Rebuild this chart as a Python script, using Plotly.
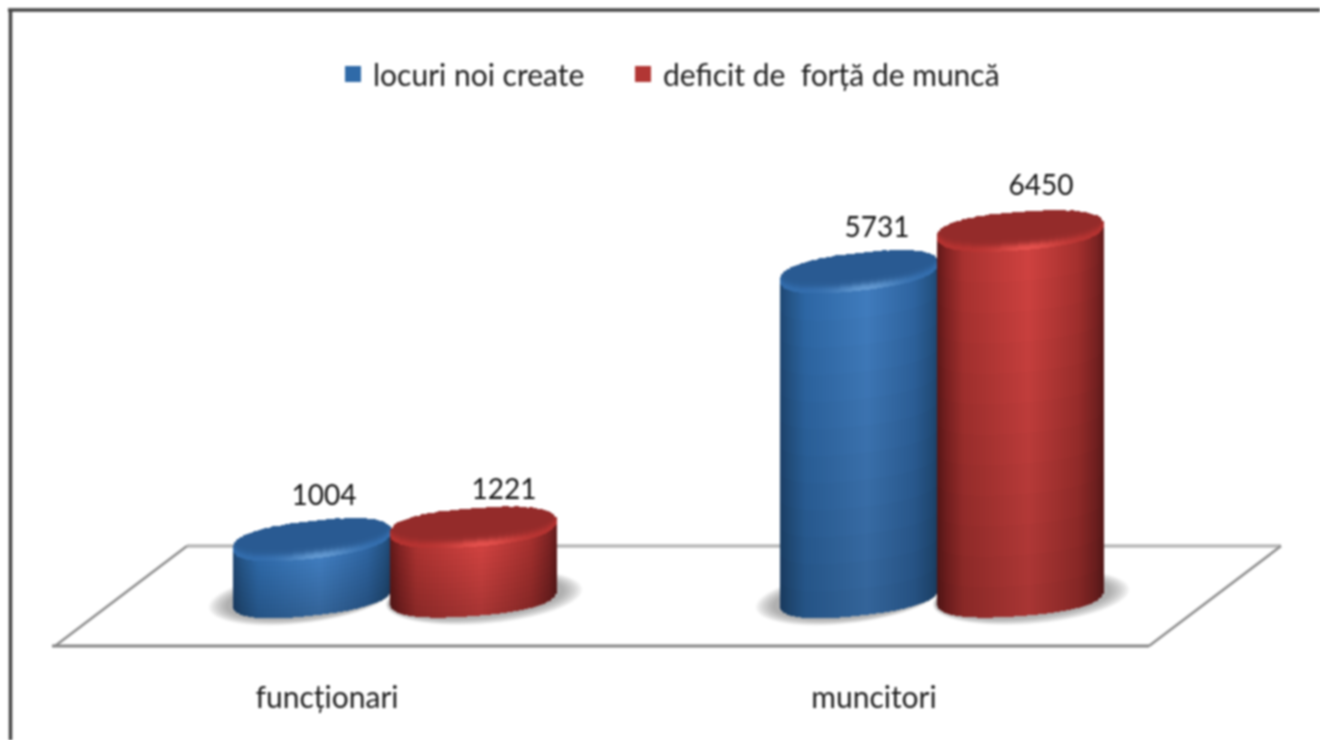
import numpy as np
import plotly.graph_objects as go

categories = ["funcționari", "muncitori"]
series_names = ["locuri noi create", "deficit de  forță de muncă"]
locuri_noi = [1004, 5731]
deficit = [1221, 6450]

W, H = 1320, 740
MB = 66
PX_X0, PX_PER_CAT = 395.0, 547.0      # px of category 0, px per category
PX_Y0, PX_PER_VAL = 597.0, 0.0567     # px of value 0, px per unit
UX = 1 / PX_PER_CAT
UV = 1 / PX_PER_VAL
x_range = [(0 - PX_X0) * UX, (W - PX_X0) * UX]
y_range = [(PX_Y0 - (H - MB)) * UV, PX_Y0 * UV]
SUPER = 2.4

def mix(c1, c2, t):
    return tuple(a + (b - a) * t for a, b in zip(c1, c2))

def rgb(c):
    return "rgb(%d,%d,%d)" % tuple(int(round(max(0, min(255, v)))) for v in c)

def profile(stops, t):
    ts = [s[0] for s in stops]
    return tuple(np.interp(t, ts, [s[1][i] for s in stops]) for i in range(3))

BLUE = dict(
    body=[(0, (30, 70, 115)), (.06, (37, 85, 135)), (.16, (45, 103, 165)), (.55, (64, 124, 190)),
          (.85, (46, 100, 160)), (.96, (36, 82, 130)), (1, (30, 70, 112))],
    cap=(41, 90, 146), rim=(50, 108, 172), glow=(98, 152, 208), off=-83, a=79, s=.11, b=18.6)
RED = dict(
    body=[(0, (95, 25, 25)), (.06, (130, 35, 35)), (.16, (170, 50, 48)), (.55, (208, 66, 64)),
          (.85, (165, 48, 46)), (.96, (125, 35, 35)), (1, (100, 28, 28))],
    cap=(148, 43, 42), rim=(180, 50, 48), glow=(228, 80, 76), off=78, a=83, s=.075, b=19)

def cylinder(cat, val, st):
    cx = cat + st["off"] * UX
    a, s, b = st["a"], st["s"], st["b"]
    xs, bases, tops, cols = [], [], [], []
    for dx in np.arange(-a + .5, a, 1.5):
        r = max(0, 1 - abs(dx / a) ** SUPER) ** (1 / SUPER)
        t = (dx + a) / (2 * a)
        front = b * r - s * dx
        back = -b * r - s * dx
        c0 = profile(st["body"], t)
        # body
        bot_v, top_v = -front * UV, val - front * UV
        n = 12
        edges = np.linspace(bot_v, top_v, n + 1)
        for i in range(n):
            f = .80 + .20 * (i + .5) / n
            xs.append(cx + dx * UX); bases.append(edges[i]); tops.append(edges[i + 1] - edges[i])
            cols.append(rgb(tuple(v * f for v in c0)))
        # cap, from front rim to back rim
        span = front - back
        glow = np.exp(-((t - .55) / .2) ** 2)
        rimc = mix(st["rim"], st["glow"], glow)
        d = 0.0
        while d < span:
            h = min(2.0, span - d)
            k = np.exp(-(max(0, d - 1.0) / 5.0) ** 2)
            xs.append(cx + dx * UX)
            bases.append(val - (front - d) * UV)
            tops.append((h + .4) * UV)
            cols.append(rgb(mix(st["cap"], rimc, k)))
            d += h
    return go.Bar(x=xs, y=tops, base=bases, width=2.0 * UX, marker=dict(color=cols, line=dict(width=0)),
                  hoverinfo="skip", showlegend=False)

def ellipse_path(cx, cy_val, a, b, s):
    th = np.linspace(0, 2 * np.pi, 60)
    px = a * np.cos(th)
    py = b * np.sin(th) - s * px
    xx = cx + px * UX
    yy = cy_val - py * UV
    return "M" + " L".join(f"{x:.5f},{y:.2f}" for x, y in zip(xx, yy)) + " Z"

fig = go.Figure()
shapes = []

def paper_line(x0, y0, x1, y1, color, width):
    ph = H - MB
    shapes.append(dict(type="line", xref="paper", yref="paper", x0=x0 / W, x1=x1 / W,
                       y0=(ph - y0) / ph, y1=(ph - y1) / ph,
                       line=dict(color=color, width=width), layer="below"))

# frame
paper_line(8, 10, W, 10, "#444444", 3.5)
paper_line(10.5, 10, 10.5, H + 5, "#444444", 3.5)
# floor
paper_line(187, 546, 1281, 546, "#b8b8b8", 3.5)
paper_line(55, 646, 187, 546, "#8e8e8e", 2.6)
paper_line(52, 646, 1149, 646, "#868686", 3)
paper_line(1149, 646, 1281, 546, "#8e8e8e", 2.6)

pairs = list(zip(range(len(categories)), locuri_noi, deficit))
# shadows under the cylinders
for cat, v1, v2 in pairs:
    for st, grow_l, grow_r in ((BLUE, 24, 4), (RED, 4, 26)):
        for g in np.linspace(1, 0.3, 8):
            sh_x = cat + (st["off"] + (grow_r - grow_l) * .5 * g) * UX
            shapes.append(dict(type="path", xref="x", yref="y", layer="below",
                               path=ellipse_path(sh_x, 0, st["a"] + (grow_r + grow_l) * .5 * g, st["b"] + 8 * g, st["s"]),
                               fillcolor="rgba(100,100,100,0.085)", line=dict(width=0)))

for cat, v1, v2 in pairs:
    fig.add_trace(cylinder(cat, v1, BLUE))
    fig.add_trace(cylinder(cat, v2, RED))

# data labels
label_x, label_y, label_t = [], [], []
for cat, v1, v2 in pairs:
    lift_red = 22 if cat == 0 else 29
    label_x += [cat + (BLUE["off"] + (12 if cat == 0 else 18)) * UX, cat + (RED["off"] + (31 if cat == 0 else 21)) * UX]
    label_y += [v1 + 28 * UV, v2 + lift_red * UV]
    label_t += [str(v1), str(v2)]
fig.add_trace(go.Scatter(x=label_x, y=label_y, mode="text", text=label_t, textposition="top center",
                         textfont=dict(family="Lato", size=28, color="#111111"),
                         hoverinfo="skip", showlegend=False, cliponaxis=False))

# legend entries, one legend per series
for name, c, lg in zip(series_names, ("#2f6aa8", "#b23634"), ("legend", "legend2")):
    fig.add_trace(go.Scatter(x=[None], y=[None], mode="markers", name=name, legend=lg,
                             marker=dict(symbol="square", size=18, color=c)))

tick_shift = -68 * UX
leg_common = dict(orientation="h", y=(H - MB - 74) / (H - MB), yanchor="middle", xanchor="left",
                  font=dict(family="Lato", size=30, color="#1c1c1c"), bgcolor="rgba(0,0,0,0)", itemwidth=30)
fig.update_layout(
    width=W, height=H, margin=dict(l=0, r=0, t=0, b=MB, pad=0),
    paper_bgcolor="white", plot_bgcolor="white", barmode="overlay", shapes=shapes,
    bargap=0,
    xaxis=dict(range=x_range, tickmode="array", tickvals=[i + tick_shift for i in range(len(categories))],
               ticktext=categories, showgrid=False, zeroline=False, showline=False, ticks="",
               tickfont=dict(family="Lato", size=30, color="#1c1c1c"), ticklabelstandoff=3),
    yaxis=dict(range=y_range, showgrid=False, zeroline=False, showline=False, showticklabels=False, ticks=""),
    legend=dict(x=333 / W, **leg_common),
    legend2=dict(x=623 / W, **leg_common),
    font=dict(family="Lato"),
)
post = """
document.body.style.margin='0';
document.documentElement.style.overflow='hidden';
var g=document.getElementsByClassName('plotly-graph-div')[0];
g.style.filter='blur(1.1px)';
"""
fig.write_html("out.html", post_script=post, config=dict(displayModeBar=False))
